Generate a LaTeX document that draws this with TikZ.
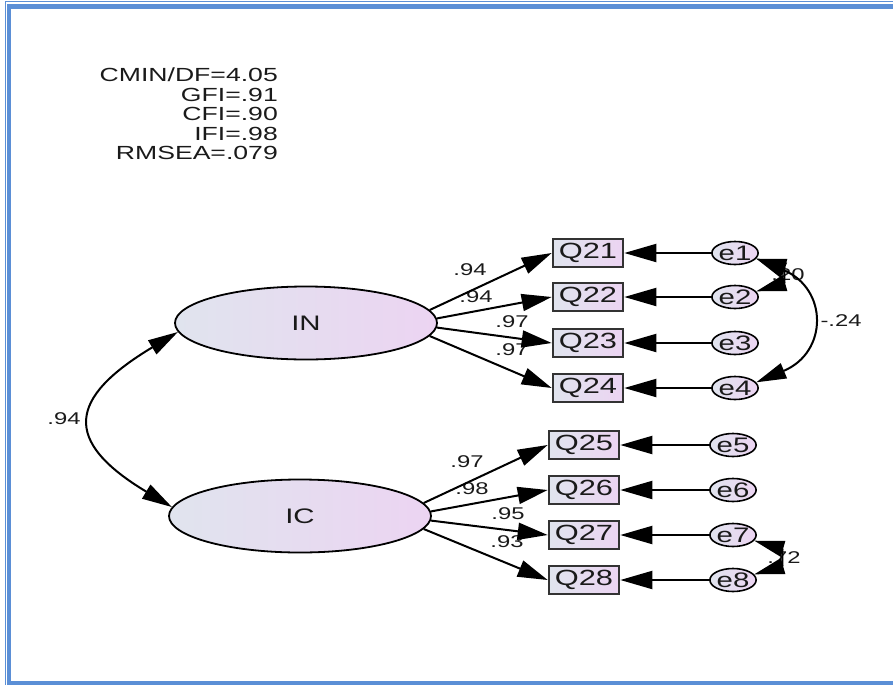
\documentclass[tikz,border=0pt]{standalone}
\usepackage{fontspec}
\setmainfont[FakeStretch=1.4]{Liberation Sans}
\definecolor{amosframe}{HTML}{5B8FD6}
\definecolor{amosleft}{HTML}{E0E4EE}
\definecolor{amosright}{HTML}{ECD4F2}
\definecolor{amostext}{HTML}{1A1A1A}
\usetikzlibrary{arrows.meta,shapes.geometric}
\tikzset{
    latent/.style={
        ellipse,
        draw=black,
        line width=1.8pt,
        left color=amosleft,
        right color=amosright,
        minimum width=262pt,
        minimum height=73pt,
        inner sep=0pt,
        text=amostext,
        font=\fontsize{21pt}{24pt}\selectfont
    },
    observed/.style={
        rectangle,
        draw=black!80,
        line width=2.6pt,
        left color=amosleft,
        right color=amosright,
        minimum width=70pt,
        minimum height=28pt,
        inner sep=0pt,
        text=amostext,
        font=\fontsize{22pt}{24pt}\selectfont
    },
    errorvar/.style={
        ellipse,
        draw=black,
        line width=1.6pt,
        left color=amosleft,
        right color=amosright,
        minimum width=36pt,
        minimum height=23pt,
        inner sep=0pt,
        text=amostext,
        font=\fontsize{21pt}{24pt}\selectfont
    },
    pathlabel/.style={
        inner sep=0pt,
        text=amostext,
        font=\fontsize{17pt}{19pt}\selectfont
    },
    fitlabel/.style={
        inner sep=0pt,
        align=right,
        text=amostext,
        font=\fontsize{19pt}{19.5pt}\selectfont
    },
    loadarrow/.style={
        -{Triangle[length=30pt,width=17pt]},
        line width=2pt
    },
    errorarrow/.style={
        -{Triangle[length=32pt,width=18pt]},
        line width=2pt
    },
    covarrow/.style={
        {Triangle[length=30pt,width=16pt]}-{Triangle[length=30pt,width=16pt]},
        line width=2pt
    }
}

\begin{document}
\begin{tikzpicture}[x=1pt,y=1pt]
        \useasboundingbox (0,0) rectangle (893,-685);
        % window frame
        \fill[amosframe] (5,-0.8) rectangle (893,-2.2);
        \fill[amosframe] (5,-0.8) rectangle (6.3,-685);
        \fill[amosframe] (7,-4) rectangle (893,-9.5);
        \fill[amosframe] (7,-4) rectangle (10.5,-685);
        \fill[amosframe] (7,-681) rectangle (893,-685);

        \node[fitlabel,anchor=north east] (fitstats) at (278,-68)
            {CMIN/DF=4.05\\GFI=.91\\CFI=.90\\IFI=.98\\RMSEA=.079};

        % latent factors
        \node[latent] (IN) at (306,-323) {IN};
        \node[latent] (IC) at (300,-516) {IC};

        % indicators
        \node[observed] (q21) at (588,-253) {Q21};
        \node[observed] (q22) at (588,-297) {Q22};
        \node[observed] (q23) at (588,-343) {Q23};
        \node[observed] (q24) at (588,-388) {Q24};
        \node[observed] (q25) at (584,-445) {Q25};
        \node[observed] (q26) at (584,-490) {Q26};
        \node[observed] (q27) at (584,-535) {Q27};
        \node[observed] (q28) at (584,-580) {Q28};

        % error terms
        \node[errorvar] (e1) at (735,-253) {e1};
        \node[errorvar] (e2) at (735,-297) {e2};
        \node[errorvar] (e3) at (735,-343) {e3};
        \node[errorvar] (e4) at (735,-388) {e4};
        \node[errorvar] (e5) at (733,-445) {e5};
        \node[errorvar] (e6) at (733,-490) {e6};
        \node[errorvar] (e7) at (733,-535) {e7};
        \node[errorvar] (e8) at (733,-580) {e8};

        % estimates
        \node[pathlabel] (l21) at (470,-270) {.94};
        \node[pathlabel] (l22) at (476,-297) {.94};
        \node[pathlabel] (l23) at (512,-322) {.97};
        \node[pathlabel] (l24) at (512,-350) {.97};
        \node[pathlabel] (l25) at (467,-462) {.97};
        \node[pathlabel] (l26) at (472,-489) {.98};
        \node[pathlabel] (l27) at (508,-514) {.95};
        \node[pathlabel] (l28) at (507,-542) {.93};
        \node[pathlabel] (rinic) at (64,-419) {.94};
        \node[pathlabel] (re12) at (788,-275) {.20};
        \node[pathlabel] (re14) at (841,-321) {-.24};
        \node[pathlabel] (re78) at (784,-558) {.72};

        \draw[loadarrow] (IN.6) -- (q21.west);
        \draw[loadarrow] (IN.2) -- (q22.west);
        \draw[loadarrow] (IN.-2) -- (q23.west);
        \draw[loadarrow] (IN.-6) -- (q24.west);
        \draw[loadarrow] (IC.6) -- (q25.west);
        \draw[loadarrow] (IC.2) -- (q26.west);
        \draw[loadarrow] (IC.-2) -- (q27.west);
        \draw[loadarrow] (IC.-6) -- (q28.west);

        \foreach \i in {1,...,8}
            \draw[errorarrow] (e\i.west) -- (q2\i.east);

        \draw[covarrow] (IN.184) .. controls +(-110,-66) and +(-110,66) .. (IC.176);
        \draw[covarrow] (e1.-15) .. controls +(28,-8) and +(28,8) .. (e2.15);
        \draw[covarrow] (e1.-15) .. controls +(72,-30) and +(72,30) .. (e4.15);
        \draw[covarrow] (e7.-15) .. controls +(28,-8) and +(28,8) .. (e8.15);
    \end{tikzpicture}
\end{document}
